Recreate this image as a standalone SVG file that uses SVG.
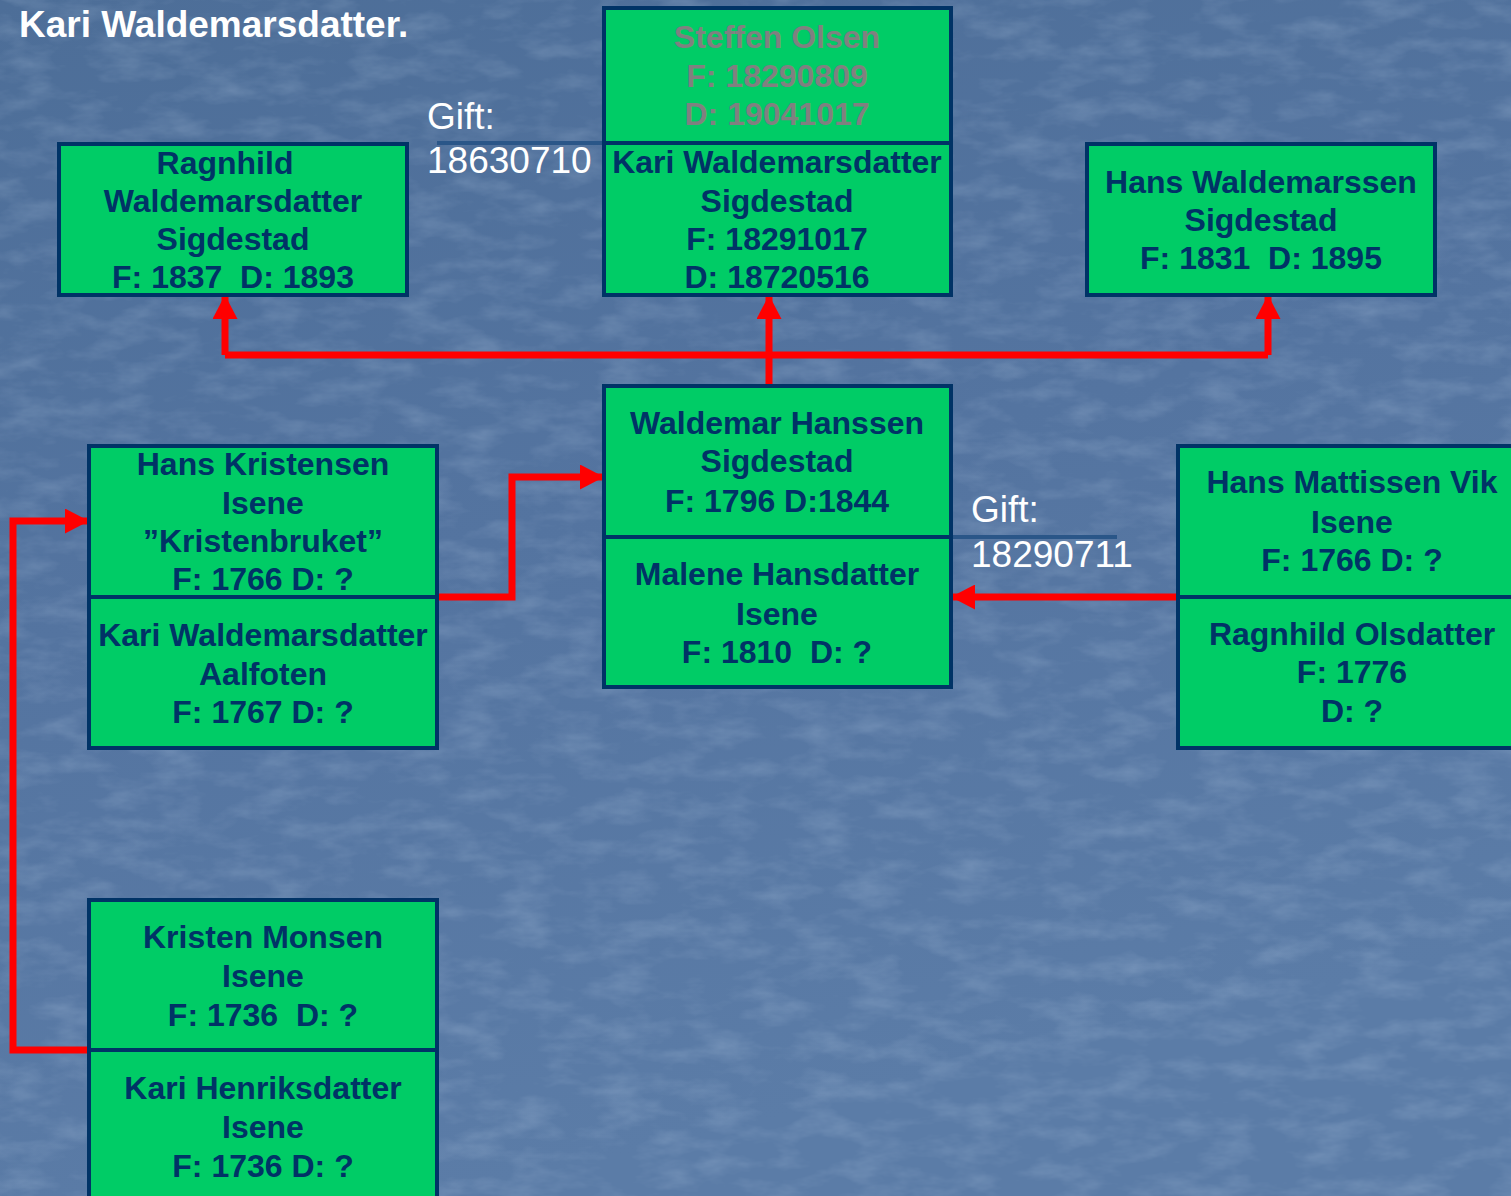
<svg xmlns="http://www.w3.org/2000/svg" width="1511" height="1196" viewBox="0 0 1511 1196">
  <defs>
    <linearGradient id="bg" x1="0" y1="0" x2="0.3" y2="1">
      <stop offset="0" stop-color="#4d6e98"/>
      <stop offset="0.5" stop-color="#5474a0"/>
      <stop offset="1" stop-color="#5b7ca7"/>
    </linearGradient>
    <filter id="tex" x="0" y="0" width="100%" height="100%">
      <feTurbulence type="fractalNoise" baseFrequency="0.02 0.05" numOctaves="4" seed="7" result="n"/>
      <feColorMatrix in="n" type="matrix" values="0 0 0 0 0.55  0 0 0 0 0.68  0 0 0 0 0.85  0 0 0 1.2 -0.5"/>
    </filter>
    <marker id="ah" viewBox="0 0 24 25" refX="23" refY="12.5" markerWidth="24" markerHeight="25" markerUnits="userSpaceOnUse" orient="auto">
      <path d="M0,0 L24,12.5 L0,25 Z" fill="#ff0000"/>
    </marker>
    <style>
      .box { fill: #00cc66; stroke: #003366; stroke-width: 4; }
      .div { stroke: #003366; stroke-width: 4; }
      .t { font-family: "Liberation Sans", Arial, sans-serif; font-weight: bold; font-size: 32px; fill: #003366; text-anchor: middle; }
      .g { fill: #808080; }
      .gift { font-family: "Liberation Sans", Arial, sans-serif; font-size: 37px; fill: #ffffff; }
      .title { font-family: "Liberation Sans", Arial, sans-serif; font-weight: bold; font-size: 37px; fill: #ffffff; }
      .con { fill: none; stroke: #ff0000; stroke-width: 7; stroke-linejoin: miter; }
      .thin { stroke: #2a5688; stroke-width: 4; }
    </style>
  </defs>

  <rect x="0" y="0" width="1511" height="1196" fill="url(#bg)"/>
  <rect x="0" y="0" width="1511" height="1196" filter="url(#tex)" opacity="0.35"/>

  <text class="title" x="19" y="37">Kari Waldemarsdatter.</text>

  <g id="gift1">
    <line class="thin" x1="437" y1="143" x2="603" y2="143"/>
    <text class="gift" x="427" y="129">Gift:</text>
    <text class="gift" x="427" y="173">18630710</text>
  </g>
  <g id="gift2">
    <line class="thin" x1="951" y1="537" x2="1117" y2="537"/>
    <text class="gift" x="971" y="522">Gift:</text>
    <text class="gift" x="971" y="567">18290711</text>
  </g>

  <g id="connectors">
    <path class="con" d="M225,355 H1268"/>
    <path class="con" d="M225,355 V296" marker-end="url(#ah)"/>
    <path class="con" d="M1268,355 V296" marker-end="url(#ah)"/>
    <path class="con" d="M769,385 V296" marker-end="url(#ah)"/>
    <path class="con" d="M437,597 H512 V477 H603" marker-end="url(#ah)"/>
    <path class="con" d="M89,1050 H13 V521 H88" marker-end="url(#ah)"/>
    <path class="con" d="M1177,597 H952" marker-end="url(#ah)"/>
  </g>

  <g id="node-steffen-kari">
    <rect class="box" x="604" y="8" width="347" height="287"/>
    <line class="div" x1="604" y1="143" x2="951" y2="143"/>
    <text class="t g" x="777" y="48">Steffen Olsen</text>
    <text class="t g" x="777" y="87">F: 18290809</text>
    <text class="t g" x="777" y="125">D: 19041017</text>
    <text class="t" x="777" y="173">Kari Waldemarsdatter</text>
    <text class="t" x="777" y="212">Sigdestad</text>
    <text class="t" x="777" y="250">F: 18291017</text>
    <text class="t" x="777" y="288">D: 18720516</text>
  </g>

  <g id="node-ragnhild">
    <rect class="box" x="59" y="144" width="348" height="151"/>
    <text class="t" x="225" y="174">Ragnhild</text>
    <text class="t" x="233" y="212">Waldemarsdatter</text>
    <text class="t" x="233" y="250">Sigdestad</text>
    <text class="t" x="233" y="288" xml:space="preserve">F: 1837  D: 1893</text>
  </g>

  <g id="node-hans-waldemarssen">
    <rect class="box" x="1087" y="144" width="348" height="151"/>
    <text class="t" x="1261" y="193">Hans Waldemarssen</text>
    <text class="t" x="1261" y="231">Sigdestad</text>
    <text class="t" x="1261" y="269" xml:space="preserve">F: 1831  D: 1895</text>
  </g>

  <g id="node-waldemar-malene">
    <rect class="box" x="604" y="386" width="347" height="301"/>
    <line class="div" x1="604" y1="537" x2="951" y2="537"/>
    <text class="t" x="777" y="434">Waldemar Hanssen</text>
    <text class="t" x="777" y="472">Sigdestad</text>
    <text class="t" x="777" y="512">F: 1796 D:1844</text>
    <text class="t" x="777" y="585">Malene Hansdatter</text>
    <text class="t" x="777" y="625">Isene</text>
    <text class="t" x="777" y="663" xml:space="preserve">F: 1810  D: ?</text>
  </g>

  <g id="node-hans-kristensen-kari">
    <rect class="box" x="89" y="446" width="348" height="302"/>
    <line class="div" x1="89" y1="597" x2="437" y2="597"/>
    <text class="t" x="263" y="475">Hans Kristensen</text>
    <text class="t" x="263" y="514">Isene</text>
    <text class="t" x="263" y="552">”Kristenbruket”</text>
    <text class="t" x="263" y="590">F: 1766 D: ?</text>
    <text class="t" x="263" y="646">Kari Waldemarsdatter</text>
    <text class="t" x="263" y="685">Aalfoten</text>
    <text class="t" x="263" y="723">F: 1767 D: ?</text>
  </g>

  <g id="node-hans-mattissen-ragnhild">
    <rect class="box" x="1178" y="446" width="350" height="302"/>
    <line class="div" x1="1178" y1="597" x2="1528" y2="597"/>
    <text class="t" x="1352" y="493">Hans Mattissen Vik</text>
    <text class="t" x="1352" y="533">Isene</text>
    <text class="t" x="1352" y="571">F: 1766 D: ?</text>
    <text class="t" x="1352" y="645">Ragnhild Olsdatter</text>
    <text class="t" x="1352" y="683">F: 1776</text>
    <text class="t" x="1352" y="722">D: ?</text>
  </g>

  <g id="node-kristen-kari-henriks">
    <rect class="box" x="89" y="900" width="348" height="310"/>
    <line class="div" x1="89" y1="1050" x2="437" y2="1050"/>
    <text class="t" x="263" y="948">Kristen Monsen</text>
    <text class="t" x="263" y="987">Isene</text>
    <text class="t" x="263" y="1026" xml:space="preserve">F: 1736  D: ?</text>
    <text class="t" x="263" y="1099">Kari Henriksdatter</text>
    <text class="t" x="263" y="1138">Isene</text>
    <text class="t" x="263" y="1177">F: 1736 D: ?</text>
  </g>
</svg>
